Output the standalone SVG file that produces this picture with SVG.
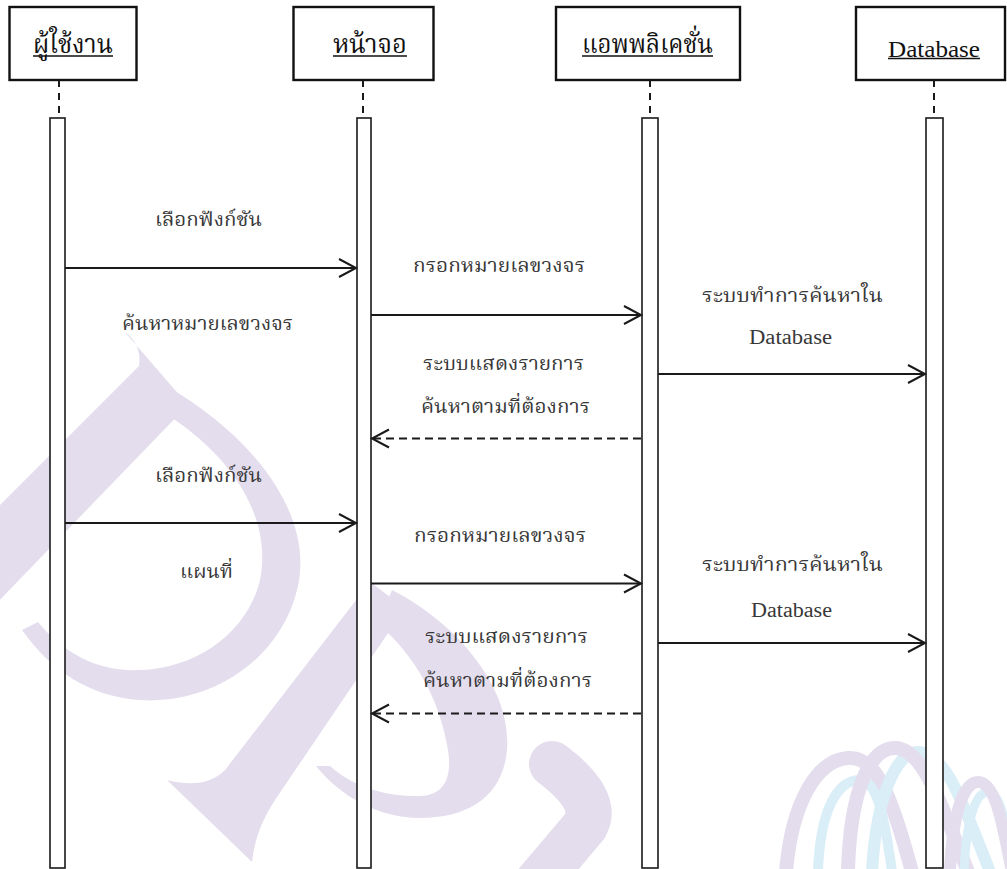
<svg xmlns="http://www.w3.org/2000/svg" width="1007" height="869" viewBox="0 0 1007 869">
  <defs>
    <style>
      .box { fill: #ffffff; stroke: #111111; stroke-width: 2.4; }
      .bar { fill: #ffffff; stroke: #1a1a1a; stroke-width: 1.6; }
      .life { stroke: #1a1a1a; stroke-width: 2; stroke-dasharray: 7 6; fill: none; }
      .msg { stroke: #1a1a1a; stroke-width: 2; fill: none; marker-end: url(#openArrow); }
      .ret { stroke-dasharray: 8 5; }
      .uline { stroke: #111111; stroke-width: 1.6; }
      .head { font-family: "Noto Serif Thai", "Noto Sans Thai", "Liberation Serif", serif; font-size: 26px; fill: #111111; }
      .headEn { font-family: "Liberation Serif", "DejaVu Serif", serif; font-size: 24px; fill: #111111; }
      .lbl { font-family: "Noto Serif Thai", "Noto Sans Thai", "Liberation Serif", serif; font-size: 19px; fill: #383838; }
      .lblEn { font-family: "Liberation Serif", "DejaVu Serif", serif; font-size: 20px; fill: #383838; }
      .wm { fill: #e4ddee; stroke: none; }
      .wmS { fill: none; stroke: #e4ddee; }
      .wmC { fill: none; stroke: #d9eef7; }
    </style>
    <marker id="openArrow" markerUnits="userSpaceOnUse" markerWidth="22" markerHeight="24" refX="18" refY="11" orient="auto" overflow="visible">
      <path d="M1,2 L18,11 L1,20" fill="none" stroke="#1a1a1a" stroke-width="2"/>
    </marker>
  </defs>

  <rect x="0" y="0" width="1007" height="869" fill="#ffffff"/>

  <!-- background emblem -->
  <g id="emblem">
    <!-- first letter: stem and bowl -->
    <path class="wm" d="M124,331 Q142,344 139,366 L-10,515 L-10,610 L188,405 Z"/>
    <path class="wm" d="M165,385 C260,440 315,520 297,590 C280,660 210,705 140,700 C90,697 50,670 22,630 L38,622 C65,655 100,672 140,670 C200,668 248,630 260,580 C272,520 235,460 172,418 Z"/>
    <!-- second letter: stem, bowl, leg -->
    <path class="wm" d="M370,582 L405,608 L275,800 Q255,830 252,862 L167,780 Q205,790 225,770 Z"/>
    <path class="wm" d="M392,590 C460,625 512,690 507,750 C503,795 470,818 420,818 C378,818 340,796 316,766 L330,766 C352,786 385,797 420,796 C446,795 452,775 448,750 C440,700 415,655 378,624 Z"/>
    <path class="wmS" stroke-width="46" stroke-linecap="round" d="M552,764 Q600,800 585,826 L536,884"/>
    <!-- ribbon mark -->
    <path class="wmS" stroke-width="14" d="M786,872 C792,800 818,760 848,758 C875,756 890,790 912,872"/>
    <path class="wmC" stroke-width="10" d="M818,872 C820,812 836,782 858,780 C876,778 884,812 892,872"/>
    <path class="wmC" stroke-width="12" d="M872,872 C876,800 895,752 918,752 C945,752 962,800 990,872"/>
    <path class="wmS" stroke-width="14" d="M848,872 C850,790 870,748 895,748 C922,748 940,800 968,872"/>
    <path class="wmC" stroke-width="9" d="M964,872 C966,822 975,792 988,792 C1000,792 1006,820 1012,872"/>
    <path class="wmS" stroke-width="12" d="M950,872 C952,820 962,782 978,782 C995,782 1002,820 1012,872"/>
  </g>

  <!-- participant: user -->
  <g id="user">
    <rect class="box" x="9.5" y="7" width="127" height="73"/>
    <text class="head" x="33" y="53" textLength="80" lengthAdjust="spacingAndGlyphs">ผู้ใช้งาน</text>
    <line class="uline" x1="33" y1="56" x2="113" y2="56"/>
    <line class="life" x1="59" y1="80" x2="59" y2="118"/>
    <rect class="bar" x="50" y="118" width="15" height="750"/>
  </g>

  <!-- participant: screen -->
  <g id="screen">
    <rect class="box" x="293.5" y="7" width="140" height="73"/>
    <text class="head" x="333" y="53" textLength="74" lengthAdjust="spacingAndGlyphs">หน้าจอ</text>
    <line class="uline" x1="333" y1="56" x2="407" y2="56"/>
    <line class="life" x1="363" y1="80" x2="363" y2="118"/>
    <rect class="bar" x="357" y="118" width="14" height="750"/>
  </g>

  <!-- participant: application -->
  <g id="application">
    <rect class="box" x="556" y="7" width="184" height="73"/>
    <text class="head" x="582" y="53" textLength="131" lengthAdjust="spacingAndGlyphs">แอพพลิเคชั่น</text>
    <line class="uline" x1="582" y1="56" x2="713" y2="56"/>
    <line class="life" x1="650" y1="80" x2="650" y2="118"/>
    <rect class="bar" x="642" y="118" width="16" height="750"/>
  </g>

  <!-- participant: database -->
  <g id="database">
    <rect class="box" x="856" y="7" width="149" height="73"/>
    <text class="headEn" font-family="Liberation Serif, serif" x="888" y="56.5" textLength="92" lengthAdjust="spacingAndGlyphs">Database</text>
    <line class="uline" x1="888" y1="58.5" x2="980" y2="58.5"/>
    <line class="life" x1="934" y1="80" x2="934" y2="118"/>
    <rect class="bar" x="926" y="118" width="17" height="750"/>
  </g>

  <!-- messages -->
  <g id="connectors">
    <line class="msg" x1="65" y1="268" x2="356" y2="268"/>
    <line class="msg" x1="371" y1="315" x2="641" y2="315"/>
    <line class="msg" x1="658" y1="374" x2="925" y2="374"/>
    <line class="msg ret" x1="641" y1="438.5" x2="372" y2="438.5"/>
    <line class="msg" x1="65" y1="523" x2="356" y2="523"/>
    <line class="msg" x1="371" y1="583.5" x2="641" y2="583.5"/>
    <line class="msg" x1="658" y1="643" x2="925" y2="643"/>
    <line class="msg ret" x1="641" y1="713.5" x2="372" y2="713.5"/>
  </g>

  <!-- message labels -->
  <g id="labels">
    <text class="lbl" x="155" y="226" textLength="107" lengthAdjust="spacingAndGlyphs">เลือกฟังก์ชัน</text>
    <text class="lbl" x="122" y="330" textLength="171" lengthAdjust="spacingAndGlyphs">ค้นหาหมายเลขวงจร</text>
    <text class="lbl" x="413" y="272" textLength="172" lengthAdjust="spacingAndGlyphs">กรอกหมายเลขวงจร</text>
    <text class="lbl" x="423" y="370" textLength="161" lengthAdjust="spacingAndGlyphs">ระบบแสดงรายการ</text>
    <text class="lbl" x="421" y="413" textLength="169" lengthAdjust="spacingAndGlyphs">ค้นหาตามที่ต้องการ</text>
    <text class="lbl" x="702" y="302" textLength="181" lengthAdjust="spacingAndGlyphs">ระบบทำการค้นหาใน</text>
    <text class="lblEn" font-family="Liberation Serif, serif" x="749" y="344" textLength="83" lengthAdjust="spacingAndGlyphs">Database</text>
    <text class="lbl" x="155" y="482" textLength="107" lengthAdjust="spacingAndGlyphs">เลือกฟังก์ชัน</text>
    <text class="lbl" x="180" y="578" textLength="53" lengthAdjust="spacingAndGlyphs">แผนที่</text>
    <text class="lbl" x="414" y="542" textLength="172" lengthAdjust="spacingAndGlyphs">กรอกหมายเลขวงจร</text>
    <text class="lbl" x="702" y="571" textLength="181" lengthAdjust="spacingAndGlyphs">ระบบทำการค้นหาใน</text>
    <text class="lblEn" font-family="Liberation Serif, serif" x="751" y="617" textLength="81" lengthAdjust="spacingAndGlyphs">Database</text>
    <text class="lbl" x="425" y="643" textLength="163" lengthAdjust="spacingAndGlyphs">ระบบแสดงรายการ</text>
    <text class="lbl" x="423" y="687" textLength="169" lengthAdjust="spacingAndGlyphs">ค้นหาตามที่ต้องการ</text>
  </g>
</svg>
